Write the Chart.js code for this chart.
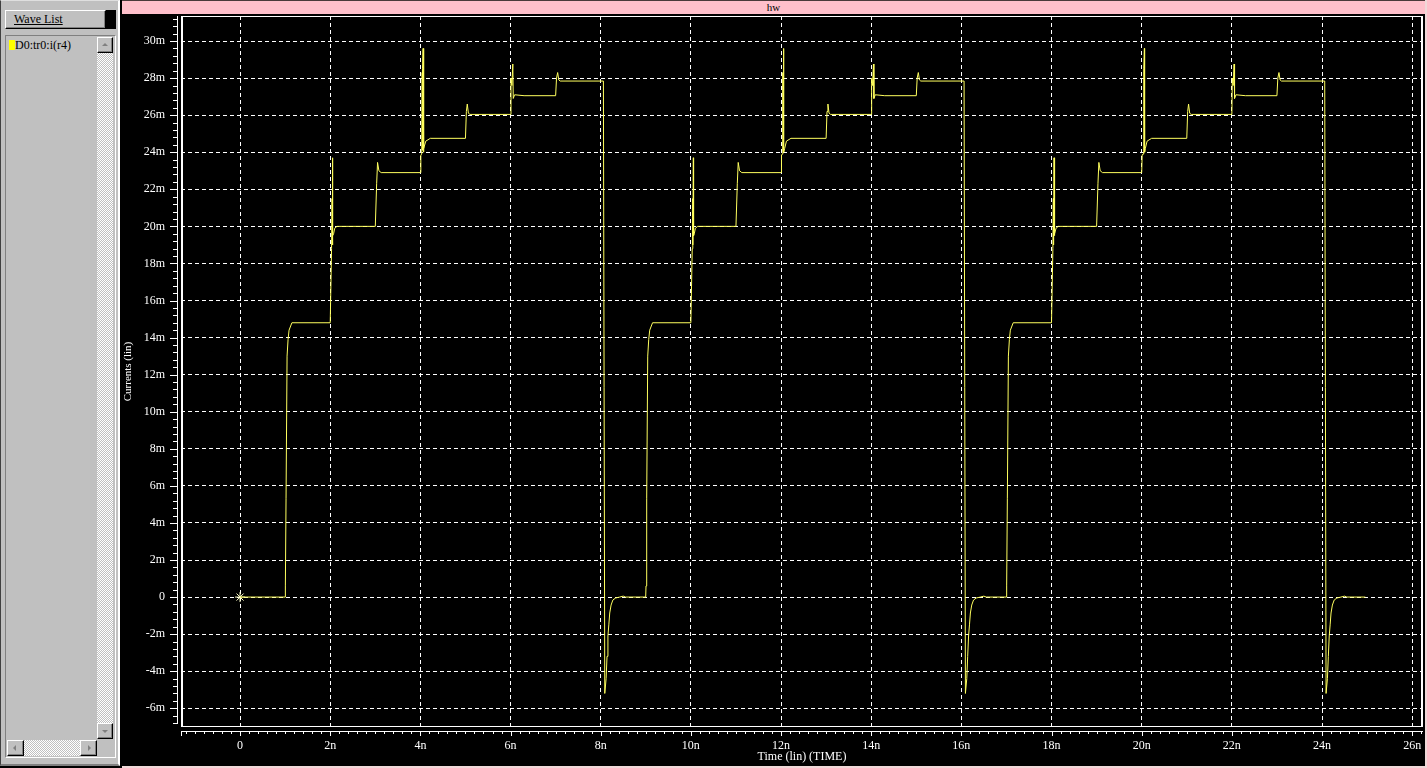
<!DOCTYPE html>
<html>
<head>
<meta charset="utf-8">
<script src="https://cdn.jsdelivr.net/npm/chart.js@4.4.1/dist/chart.umd.min.js"></script>
<style>
  html,body{margin:0;padding:0;background:#000;width:1427px;height:768px;overflow:hidden;font-family:"Liberation Serif","DejaVu Serif",serif;}
  #panel{position:absolute;left:0;top:0;width:120px;height:766px;box-sizing:border-box;background:#c0c0c0;
    border-top:1px solid #dfdfdf;border-left:1px solid #404040;border-right:2px solid #ffffff;border-bottom:2px solid #808080;}
  .bev{position:absolute;box-sizing:border-box;background:#c0c0c0;border-top:1px solid #fff;border-left:1px solid #fff;
    border-right:1px solid #000;border-bottom:1px solid #000;box-shadow:inset -1px -1px #808080;}
  #wlbtn{left:4px;top:9px;width:101px;height:19px;font-size:12px;line-height:16px;padding-left:8px;color:#000;}
  #wlbtn span{text-decoration:underline;}
  #wlblack{position:absolute;left:105px;top:9px;width:10px;height:19px;background:#000;}
  #listbox{position:absolute;left:4px;top:34px;width:111px;height:723px;box-sizing:border-box;background:#c0c0c0;
    border-top:1px solid #808080;border-left:1px solid #808080;border-right:1px solid #fff;border-bottom:1px solid #fff;}
  #item{position:absolute;left:3px;top:3px;font-size:12px;line-height:12px;color:#000;white-space:nowrap;}
  #sw{display:inline-block;width:6px;height:10px;background:#ffff00;vertical-align:-1px;}
  .track{position:absolute;background-color:#fff;
    background-image:repeating-conic-gradient(#c0c0c0 0% 25%, #ffffff 0% 50%);background-size:2px 2px;}
  #vtrack{left:91px;top:1px;width:16px;height:702px;}
  #htrack{left:1px;top:704px;width:90px;height:16px;}
  #up{left:91px;top:1px;width:16px;height:16px;}
  #down{left:91px;top:687px;width:16px;height:16px;}
  #left{left:1px;top:704px;width:17px;height:16px;}
  #right{left:74px;top:704px;width:17px;height:16px;}
  .tri{position:absolute;width:0;height:0;}
  #up .tri{left:4px;top:5px;border-left:3px solid transparent;border-right:3px solid transparent;border-bottom:3px solid #808080;}
  #down .tri{left:4px;top:6px;border-left:3px solid transparent;border-right:3px solid transparent;border-top:3px solid #808080;}
  #left .tri{left:5px;top:4px;border-top:3px solid transparent;border-bottom:3px solid transparent;border-right:3px solid #808080;}
  #right .tri{left:7px;top:4px;border-top:3px solid transparent;border-bottom:3px solid transparent;border-left:3px solid #808080;}
  #right2{position:absolute;left:122px;top:0;width:1305px;height:768px;box-sizing:border-box;background:#000;
    border-right:2px solid #f0d8d8;border-bottom:2px solid #f0d8d8;}
  #titlebar{position:absolute;left:0;top:0;width:1303px;height:14px;background:#ffc0cb;border-top:1px solid #4a3a3a;box-sizing:border-box;
    text-align:center;font-size:11px;line-height:12px;color:#000;}
  #cv{position:absolute;left:0;top:14px;}
</style>
</head>
<body>
<div id="panel">
  <div id="wlbtn" class="bev"><span>Wave List</span></div>
  <div id="wlblack"></div>
  <div id="listbox">
    <div id="item"><span id="sw"></span>D0:tr0:i(r4)</div>
    <div id="vtrack" class="track"></div>
    <div id="htrack" class="track"></div>
    <div id="up" class="bev"><div class="tri"></div></div>
    <div id="down" class="bev"><div class="tri"></div></div>
    <div id="left" class="bev"><div class="tri"></div></div>
    <div id="right" class="bev"><div class="tri"></div></div>
  </div>
</div>
<div id="right2">
  <div id="titlebar">hw</div>
  <canvas id="cv" width="1303" height="752"></canvas>
</div>
<script>
// ---- data (time in ns, current in mA) ----
const cycle1TimeNs = [0, 0.998, 1.005, 1.02, 1.043, 1.065, 1.087, 1.15, 2.0, 2.03, 2.04, 2.045, 2.055, 2.06, 2.075, 2.1, 2.15,
  3.0, 3.03, 3.05, 3.08, 3.13, 4.0, 4.01, 4.03, 4.04, 4.045, 4.05, 4.06, 4.065, 4.08, 4.12, 4.22,
  5.0, 5.02, 5.04, 5.065, 5.1, 6.0, 6.01, 6.03, 6.05, 6.06, 6.09, 6.3, 7.0, 7.02, 7.045, 7.07, 7.1,
  8.06, 8.09, 8.12, 8.14, 8.16, 8.18, 8.2, 8.23, 8.27, 8.33, 8.42, 8.5, 8.55];
const cycle1CurrentMa = [0, 0, 0.6, 5.3, 13.0, 13.9, 14.4, 14.8, 14.8, 18.8, 21.5, 19.0, 23.7, 19.5, 19.6, 19.9, 20.0,
  20.0, 22.3, 23.45, 23.0, 22.9, 22.9, 23.85, 23.9, 28.3, 24.1, 28.5, 29.6, 24.0, 24.2, 24.6, 24.75,
  24.75, 26.2, 26.6, 26.1, 26.04, 26.04, 28.0, 27.6, 28.76, 26.9, 27.1, 27.05, 27.05, 28.0, 28.3, 27.9, 27.84,
  27.84, -5.2, -4.4, -3.2, -2.1, -1.5, -0.86, -0.43, -0.16, -0.05, 0, 0.05, 0];

const cycle2TimeNs = [8.998, 9.005, 9.02, 9.043, 9.065, 9.087, 9.15, 10.0, 10.03, 10.04, 10.045, 10.055, 10.06, 10.075, 10.1, 10.15,
  11.0, 11.03, 11.05, 11.08, 11.13, 12.0, 12.01, 12.03, 12.04, 12.045, 12.05, 12.06, 12.065, 12.08, 12.12, 12.22,
  13.0, 13.02, 13.04, 13.065, 13.1, 14.0, 14.01, 14.03, 14.05, 14.06, 14.09, 14.3, 15.0, 15.02, 15.045, 15.07, 15.1,
  16.06, 16.09, 16.12, 16.14, 16.16, 16.18, 16.2, 16.23, 16.27, 16.33, 16.42, 16.5, 16.55];
const cycle2CurrentMa = [0, 0.6, 5.3, 13.0, 13.9, 14.4, 14.8, 14.8, 18.8, 21.5, 19.0, 23.7, 19.5, 19.6, 19.9, 20.0,
  20.0, 22.3, 23.45, 23.0, 22.9, 22.9, 23.85, 23.9, 28.3, 24.1, 28.5, 29.6, 24.0, 24.2, 24.6, 24.75,
  24.75, 26.2, 26.6, 26.1, 26.04, 26.04, 28.0, 27.6, 28.76, 26.9, 27.1, 27.05, 27.05, 28.0, 28.3, 27.9, 27.84,
  27.84, -5.2, -4.4, -3.2, -2.1, -1.5, -0.86, -0.43, -0.16, -0.05, 0, 0.05, 0];

const cycle3TimeNs = [16.998, 17.005, 17.02, 17.043, 17.065, 17.087, 17.15, 18.0, 18.03, 18.04, 18.045, 18.055, 18.06, 18.075, 18.1, 18.15,
  19.0, 19.03, 19.05, 19.08, 19.13, 20.0, 20.01, 20.03, 20.04, 20.045, 20.05, 20.06, 20.065, 20.08, 20.12, 20.22,
  21.0, 21.02, 21.04, 21.065, 21.1, 22.0, 22.01, 22.03, 22.05, 22.06, 22.09, 22.3, 23.0, 23.02, 23.045, 23.07, 23.1,
  24.06, 24.09, 24.12, 24.14, 24.16, 24.18, 24.2, 24.23, 24.27, 24.33, 24.42, 24.5, 24.55, 24.96];
const cycle3CurrentMa = [0, 0.6, 5.3, 13.0, 13.9, 14.4, 14.8, 14.8, 18.8, 21.5, 19.0, 23.7, 19.5, 19.6, 19.9, 20.0,
  20.0, 22.3, 23.45, 23.0, 22.9, 22.9, 23.85, 23.9, 28.3, 24.1, 28.5, 29.6, 24.0, 24.2, 24.6, 24.75,
  24.75, 26.2, 26.6, 26.1, 26.04, 26.04, 28.0, 27.6, 28.76, 26.9, 27.1, 27.05, 27.05, 28.0, 28.3, 27.9, 27.84,
  27.84, -5.2, -4.4, -3.2, -2.1, -1.5, -0.86, -0.43, -0.16, -0.05, 0, 0.05, 0, 0];

const markerTimeNs = [0];
const markerCurrentMa = [0];

const xMajorTicks = [0, 2, 4, 6, 8, 10, 12, 14, 16, 18, 20, 22, 24, 26];
const xTickLabels = ['0', '2n', '4n', '6n', '8n', '10n', '12n', '14n', '16n', '18n', '20n', '22n', '24n', '26n'];
const yMajorTicks = [-6, -4, -2, 0, 2, 4, 6, 8, 10, 12, 14, 16, 18, 20, 22, 24, 26, 28, 30];
const yTickLabels = ['-6m', '-4m', '-2m', '0', '2m', '4m', '6m', '8m', '10m', '12m', '14m', '16m', '18m', '20m', '22m', '24m', '26m', '28m', '30m'];

// ---- build ----
const allTime = cycle1TimeNs.concat(cycle2TimeNs, cycle3TimeNs);
const allCurrent = cycle1CurrentMa.concat(cycle2CurrentMa, cycle3CurrentMa);
const trace = allTime.map((t, i) => ({x: t, y: allCurrent[i]}));
const marker = markerTimeNs.map((t, i) => ({x: t, y: markerCurrentMa[i]}));

const majorIndex = (list, v) => list.findIndex(m => Math.abs(m - v) < 1e-6);
const FONT = {family: '"Liberation Serif", "DejaVu Serif", serif', size: 12};

const axisPlugin = {
  id: 'axisPlugin',
  afterDraw(chart) {
    const {ctx, chartArea: a, scales: {x, y}} = chart;
    ctx.save();
    ctx.fillStyle = '#ffffff';
    const w = a.right - a.left, h = a.bottom - a.top;
    // frame
    ctx.fillRect(a.left, a.top, 2, h);
    ctx.fillRect(a.right - 2, a.top, 2, h);
    ctx.fillRect(a.left, a.top, w, 1);
    ctx.fillRect(a.left, a.bottom - 1, w, 1);
    // y axis line and ticks
    const yl = a.left - 4;
    ctx.fillRect(yl, a.top, 1, h - 3);
    y.ticks.forEach(t => {
      const py = Math.round(y.getPixelForValue(t.value));
      const len = majorIndex(yMajorTicks, t.value) >= 0 ? 7 : 4;
      ctx.fillRect(yl - len, py, len, 1);
    });
    // x axis line and ticks
    const xl = a.bottom + 4;
    ctx.fillRect(a.left, xl, w, 1);
    x.ticks.forEach(t => {
      const px = Math.round(x.getPixelForValue(t.value));
      const len = majorIndex(xMajorTicks, t.value) >= 0 ? 5 : 3;
      ctx.fillRect(px, xl, 1, len);
    });
    ctx.fillRect(a.left, xl, 1, 5);
    ctx.restore();
  }
};

new Chart(document.getElementById('cv'), {
  type: 'line',
  data: {
    datasets: [
      {data: trace, borderColor: '#ffff5e', borderWidth: 1, pointRadius: 0, tension: 0, fill: false},
      {data: marker, showLine: false, pointStyle: 'star', pointRadius: 5, borderWidth: 1,
       borderColor: '#ffffc8', backgroundColor: '#ffffc8'}
    ]
  },
  options: {
    responsive: false, animation: false, events: [],
    layout: {autoPadding: false, padding: {top: 2, right: 2, left: 0, bottom: 0}},
    plugins: {legend: {display: false}, tooltip: {enabled: false}},
    scales: {
      x: {
        type: 'linear', min: -1.31, max: 26.24,
        afterFit(s) { s.height = 39; s.paddingLeft = 0; s.paddingRight = 0; },
        ticks: {stepSize: 0.2, autoSkip: false, includeBounds: false, maxRotation: 0, minRotation: 0,
          color: '#ffffff', font: FONT, padding: 3,
          callback: v => { const k = majorIndex(xMajorTicks, v); return k >= 0 ? xTickLabels[k] : ''; }},
        grid: {color: c => (c.tick && majorIndex(xMajorTicks, c.tick.value) >= 0) ? '#ffffff' : 'rgba(0,0,0,0)',
          tickColor: 'rgba(0,0,0,0)', tickLength: 9, lineWidth: 1},
        border: {display: false, dash: [4, 3]},
        title: {display: true, text: 'Time (lin) (TIME)', color: '#ffffff', font: FONT, padding: {top: 0, bottom: 2}}
      },
      y: {
        type: 'linear', min: -7.01, max: 31.35,
        afterFit(s) { s.width = 59; s.paddingTop = 0; s.paddingBottom = 0; },
        ticks: {stepSize: 0.4, autoSkip: false, includeBounds: false,
          color: '#ffffff', font: FONT, padding: 4,
          callback: v => { const k = majorIndex(yMajorTicks, v); return k >= 0 ? yTickLabels[k] : ''; }},
        grid: {color: c => (c.tick && majorIndex(yMajorTicks, c.tick.value) >= 0) ? '#ffffff' : 'rgba(0,0,0,0)',
          tickColor: 'rgba(0,0,0,0)', tickLength: 12, lineWidth: 1},
        border: {display: false, dash: [4, 3]},
        title: {display: true, text: 'Currents (lin)', color: '#ffffff', font: {family: FONT.family, size: 11}, padding: {top: 0, bottom: 0}}
      }
    }
  },
  plugins: [axisPlugin]
});
</script>
</body>
</html>
